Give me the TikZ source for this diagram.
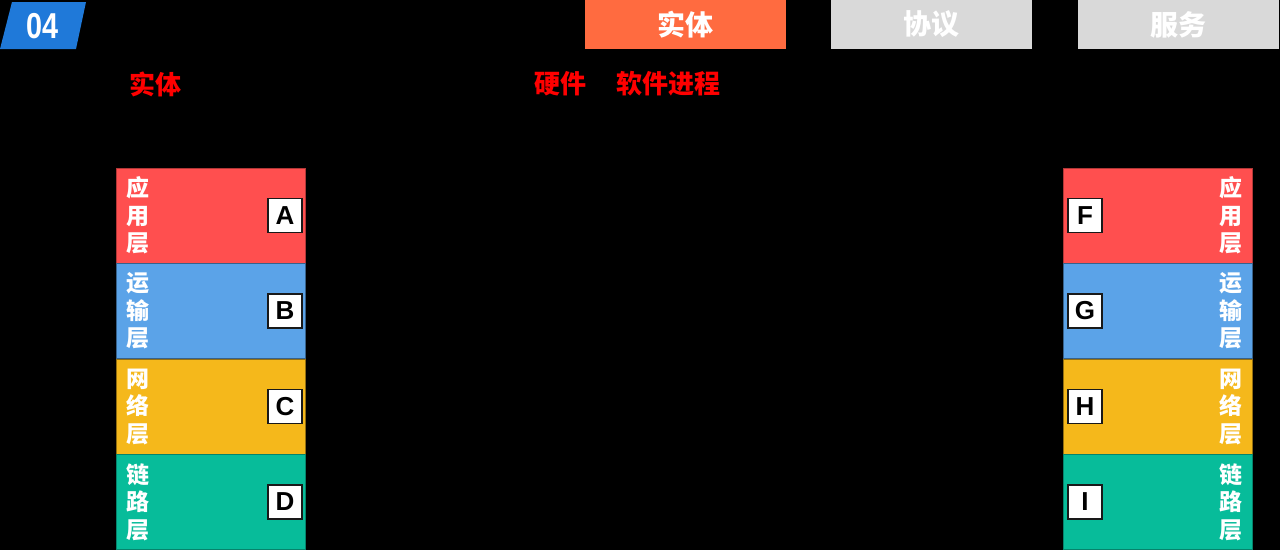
\documentclass[tikz,border=0pt]{standalone}
\usepackage{fontspec}
\newfontfamily\cjk{Noto Sans CJK SC}
\newfontfamily\lat{Liberation Sans}
\definecolor{tagblue}{HTML}{1F79D9}
\definecolor{taborange}{HTML}{FF6B40}
\definecolor{tabgray}{HTML}{D9D9D9}
\definecolor{lyred}{HTML}{FF4F4F}
\definecolor{lyblue}{HTML}{5BA3E8}
\definecolor{lyyellow}{HTML}{F5B81B}
\definecolor{lygreen}{HTML}{07BC9A}
\definecolor{lblred}{HTML}{FF0000}
\tikzset{
  tab/.style={anchor=north west, minimum width=201pt, minimum height=49pt, inner sep=0pt, outer sep=0pt,
    text=white, font=\cjk\bfseries\fontsize{28}{28}\selectfont},
  redlbl/.style={text=lblred, font=\cjk\bfseries\fontsize{26}{26}\selectfont, inner sep=0pt},
  layer/.style={anchor=north west, minimum width=189pt, minimum height=95pt, inner sep=0pt, outer sep=0pt,
    line width=0.8pt},
  vtext/.style={text=white, align=center, inner sep=0pt,
    font=\cjk\bfseries\fontsize{23}{27.5}\selectfont},
  letterbox/.style={fill=white, draw=black!90, line width=1.8pt, minimum width=34pt, minimum height=34pt,
    inner sep=0pt, font=\lat\bfseries\fontsize{26}{26}\selectfont}
}
\begin{document}
\begin{tikzpicture}[x=1pt,y=-1pt]
\useasboundingbox (0,0) rectangle (1280,550);
\fill[black] (0,0) rectangle (1280,550);
% tag 04
\fill[tagblue] (12,2) -- (86,2) -- (76,49) -- (0,49) -- cycle;
\node[text=white, font=\lat\bfseries\fontsize{36}{36}\selectfont, xscale=0.8, inner sep=0pt] (num) at (43,26) {04};
% tabs
\node[tab, fill=taborange] (t1) at (585,0) {实体};
\node[tab, fill=tabgray] (t2) at (831,0) {协议};
\node[tab, fill=tabgray] (t3) at (1078,0) {服务};
% red labels
\node[redlbl] (l1) at (155,84) {实体};
\node[redlbl] (l2) at (560,84) {硬件};
\node[redlbl] (l3) at (668,84) {软件进程};
% left stack
\node[layer, fill=lyred, draw=lyred!70!black] (la) at (116,168) {};
\node[layer, fill=lyblue, draw=lyblue!60!black] (lb) at (116,263.5) {};
\node[layer, fill=lyyellow, draw=lyyellow!60!black] (lc) at (116,359) {};
\node[layer, fill=lygreen, draw=lygreen!70!black] (ld) at (116,454.5) {};
\node[vtext] (lat) at (138,215.5) {应\\用\\层};
\node[vtext] (lbt) at (138,311) {运\\输\\层};
\node[vtext] (lct) at (138,406.5) {网\\络\\层};
\node[vtext] (ldt) at (138,502) {链\\路\\层};
\node[letterbox] (A) at (285,215.5) {A};
\node[letterbox] (B) at (285,311) {B};
\node[letterbox] (C) at (285,406.5) {C};
\node[letterbox] (D) at (285,502) {D};
% right stack
\node[layer, fill=lyred, draw=lyred!70!black] (ra) at (1063,168) {};
\node[layer, fill=lyblue, draw=lyblue!60!black] (rb) at (1063,263.5) {};
\node[layer, fill=lyyellow, draw=lyyellow!60!black] (rc) at (1063,359) {};
\node[layer, fill=lygreen, draw=lygreen!70!black] (rd) at (1063,454.5) {};
\node[vtext] (rat) at (1231,215.5) {应\\用\\层};
\node[vtext] (rbt) at (1231,311) {运\\输\\层};
\node[vtext] (rct) at (1231,406.5) {网\\络\\层};
\node[vtext] (rdt) at (1231,502) {链\\路\\层};
\node[letterbox] (F) at (1085,215.5) {F};
\node[letterbox] (G) at (1085,311) {G};
\node[letterbox] (H) at (1085,406.5) {H};
\node[letterbox] (I) at (1085,502) {I};
\end{tikzpicture}
\end{document}
